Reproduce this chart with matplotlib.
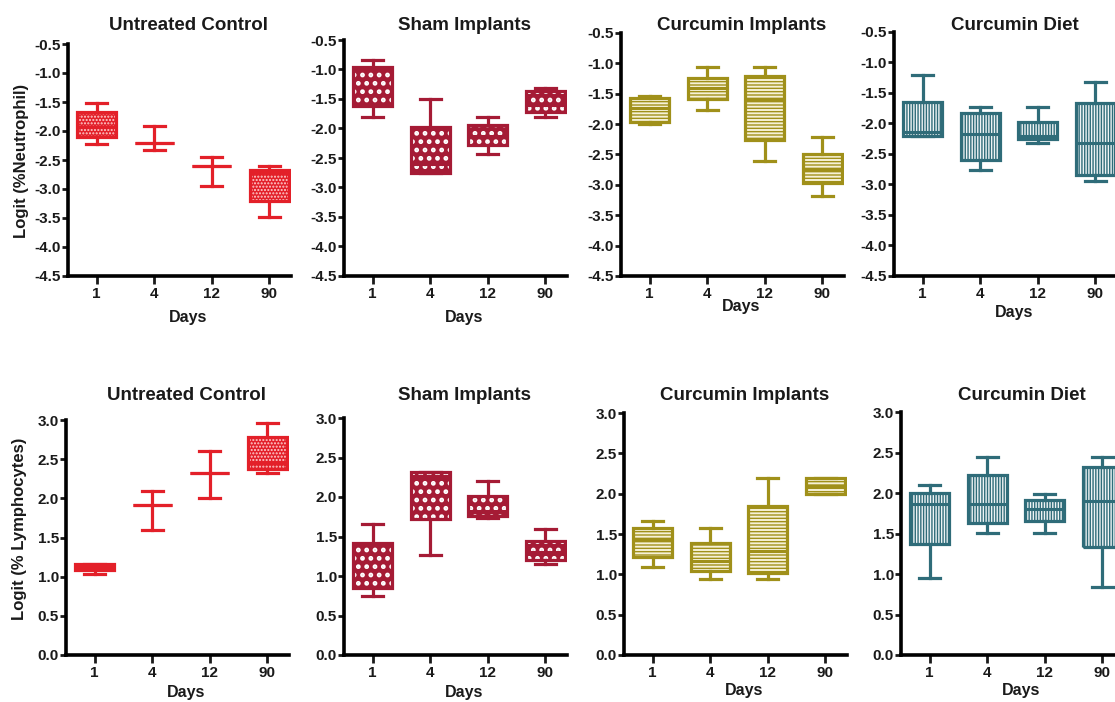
import numpy as np
import matplotlib.pyplot as plt
from matplotlib.patches import PathPatch

plt.rcParams['font.family'] = ['Liberation Sans', 'DejaVu Sans']
plt.rcParams['font.weight'] = 'bold'

days = ['1', '4', '12', '90']
titles = ['Untreated Control', 'Sham Implants', 'Curcumin Implants', 'Curcumin Diet']

# every day: (whisker low, q1, median, q3, whisker high)
neu_control = [(-2.22, -2.10, -1.93, -1.67, -1.52), (-2.32, -2.20, -2.20, -2.20, -1.91),
               (-2.94, -2.60, -2.60, -2.60, -2.44), (-3.48, -3.21, -2.72, -2.67, -2.60)]
neu_sham = [(-1.81, -1.62, -1.30, -0.96, -0.84), (-2.75, -2.75, -2.60, -1.97, -1.50),
            (-2.44, -2.28, -2.12, -1.94, -1.81), (-1.81, -1.72, -1.60, -1.37, -1.31)]
neu_cur_impl = [(-2.00, -1.97, -1.74, -1.57, -1.53), (-1.76, -1.58, -1.40, -1.24, -1.06),
                (-2.60, -2.26, -1.60, -1.21, -1.06), (-3.19, -2.97, -2.76, -2.49, -2.21)]
neu_cur_diet = [(-2.20, -2.20, -2.14, -1.65, -1.20), (-2.76, -2.60, -2.18, -1.82, -1.73),
                (-2.32, -2.26, -2.20, -1.97, -1.73), (-2.95, -2.85, -2.32, -1.66, -1.32)]

lym_control = [(1.04, 1.09, 1.12, 1.16, 1.16), (1.59, 1.91, 1.91, 1.91, 2.10),
               (2.00, 2.32, 2.32, 2.32, 2.60), (2.32, 2.37, 2.45, 2.78, 2.96)]
lym_sham = [(0.75, 0.85, 1.08, 1.42, 1.66), (1.27, 1.72, 2.27, 2.32, 2.32),
            (1.74, 1.76, 1.82, 2.01, 2.20), (1.15, 1.20, 1.30, 1.44, 1.59)]
lym_cur_impl = [(1.09, 1.21, 1.42, 1.58, 1.66), (0.94, 1.04, 1.17, 1.39, 1.58),
                (0.94, 1.02, 1.29, 1.85, 2.20), (1.99, 1.99, 2.10, 2.20, 2.20)]
lym_cur_diet = [(0.95, 1.37, 1.86, 2.00, 2.10), (1.51, 1.63, 1.87, 2.22, 2.45),
                (1.51, 1.65, 1.80, 1.91, 1.99), (0.84, 1.33, 1.90, 2.32, 2.45)]

neu_ticks = [-0.5, -1.0, -1.5, -2.0, -2.5, -3.0, -3.5, -4.0, -4.5]
lym_ticks = [0.0, 0.5, 1.0, 1.5, 2.0, 2.5, 3.0]

colors = ['#e32029', '#a51b35', '#a0901a', '#2f6c79']
fills = ['#e32029', '#a51b35', '#f6f1d6', '#eef3f4']
hatches = ['.....', '..', '-----', '||||||']
hatch_colors = ['#ffd0d0', 'white', '#a0901a', '#2f6c79']
hatch_widths = [1.0, 2.2, 1.0, 1.0]

W, H = 1115, 702
fig = plt.figure(figsize=(W / 100, H / 100), dpi=100)


def make_axes(left, top, bottom, width=223):
    return fig.add_axes([left / W, 1 - bottom / H, width / W, (bottom - top) / H])


def draw_panel(ax, data, k, ylim, yticks):
    stats = [dict(whislo=d[0], q1=d[1], med=d[2], q3=d[3], whishi=d[4], label=day)
             for d, day in zip(data, days)]
    col = colors[k]
    art = ax.bxp(stats, positions=[1, 2, 3, 4], widths=0.68, capwidths=0.36,
                 patch_artist=True, showfliers=False,
                 boxprops=dict(facecolor='none', edgecolor=col, linewidth=2.3, zorder=3),
                 medianprops=dict(color=col, linewidth=2.2, zorder=3),
                 whiskerprops=dict(color=col, linewidth=2.3),
                 capprops=dict(color=col, linewidth=2.3))
    for box in art['boxes']:
        ax.add_patch(PathPatch(box.get_path(), facecolor=fills[k], edgecolor='none', zorder=1.5))
        with plt.rc_context({'hatch.linewidth': hatch_widths[k]}):
            hp = PathPatch(box.get_path(), facecolor='none', edgecolor=hatch_colors[k],
                           lw=0, hatch=hatches[k], zorder=1.6)
        ax.add_patch(hp)
    ax.set_xlim(0.5, 4.38)
    ax.set_ylim(*ylim)
    ax.set_yticks(yticks)
    ax.set_yticklabels([f'{t:.1f}' for t in yticks])
    ax.spines[['top', 'right']].set_visible(False)
    ax.spines[['left', 'bottom']].set_linewidth(2.6)
    ax.tick_params(axis='both', direction='out', width=2, labelsize=11, colors='#1a1a1a')
    ax.tick_params(axis='y', length=4, pad=1)
    ax.tick_params(axis='x', length=6, pad=2)
    ax.patch.set_alpha(0)


top_rows = [neu_control, neu_sham, neu_cur_impl, neu_cur_diet]
bot_rows = [lym_control, lym_sham, lym_cur_impl, lym_cur_diet]

top_left = [68, 344, 621, 894]
top_top = [44, 40, 33, 32]
bot_left = [66, 344, 624, 901]
bot_top = [420, 418, 413, 412]
days_y_top = [318, 318, 307, 312]
days_y_bot = [692, 692, 691, 691]

for k in range(4):
    ax = make_axes(top_left[k], top_top[k], 276)
    draw_panel(ax, top_rows[k], k, (-4.5, -0.5), neu_ticks)
    pos = ax.get_position()
    fig.text(pos.x0 + 0.54 * pos.width, 1 - 25 / H, titles[k], ha='center', va='center',
             fontsize=13.5, color='#1a1a1a')
    fig.text(pos.x0 + 0.54 * pos.width, 1 - days_y_top[k] / H, 'Days', ha='center', va='center',
             fontsize=11.5, color='#1a1a1a')

    ax = make_axes(bot_left[k], bot_top[k], 655)
    draw_panel(ax, bot_rows[k], k, (0.0, 3.0), lym_ticks)
    pos = ax.get_position()
    fig.text(pos.x0 + 0.54 * pos.width, 1 - 395 / H, titles[k], ha='center', va='center',
             fontsize=13.5, color='#1a1a1a')
    fig.text(pos.x0 + 0.54 * pos.width, 1 - days_y_bot[k] / H, 'Days', ha='center', va='center',
             fontsize=11.5, color='#1a1a1a')

fig.text(22 / W, 1 - 161 / H, 'Logit (%Neutrophil)', rotation=90, ha='center', va='center',
         fontsize=12, color='#1a1a1a')
fig.text(20 / W, 1 - 529 / H, 'Logit (% Lymphocytes)', rotation=90, ha='center', va='center',
         fontsize=12, color='#1a1a1a')

fig.savefig('out.png', dpi=100)
